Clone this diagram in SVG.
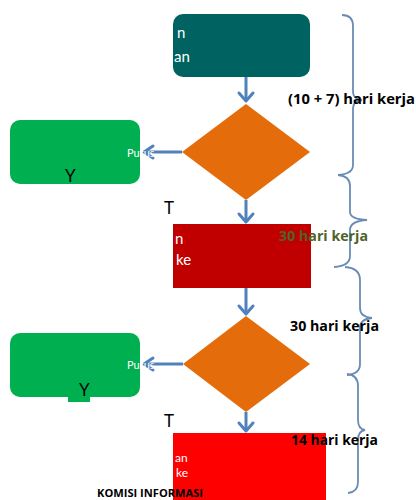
<svg xmlns="http://www.w3.org/2000/svg" width="416" height="500" viewBox="0 0 416 500">
<defs>
<style>
.conn{stroke:#4F81BD;stroke-width:3;fill:none}
.head{stroke:#4F81BD;stroke-width:3;fill:none;stroke-linecap:round;stroke-linejoin:round}
.brace{stroke:#6A8CB4;stroke-width:1.8;fill:none}
.wt{font-family:Lato,"Liberation Sans",sans-serif;fill:#fff;font-size:15px}
.yt{font-family:Lato,"Liberation Sans",sans-serif;fill:#000;font-size:17px}
.lab{font-family:"Open Sans",Lato,sans-serif;font-weight:bold;font-size:14px;fill:#000}
</style>
</defs>
<rect width="416" height="500" fill="#fff"/>
<g id="start">
<rect x="173" y="14" width="137" height="63" rx="10" fill="#006361"/>
<text class="wt" x="177" y="38">n</text>
<text class="wt" x="174" y="62">an</text>
</g>
<g id="decision1">
<polygon points="246,104 310,152 246,200 182,152" fill="#E46C0A"/>
</g>
<g id="yes1">
<rect x="10" y="120" width="130" height="64" rx="10" fill="#00B050"/>
<text class="yt" x="65" y="182">Y</text>
</g>
<g id="step2">
<rect x="173" y="224" width="138" height="64" fill="#C00000"/>
<text class="wt" x="175" y="244">n</text>
<text class="wt" x="176" y="265">ke</text>
</g>
<g id="decision2">
<polygon points="246,316 310,364 246,412 183,364" fill="#E46C0A"/>
</g>
<g id="yes2">
<rect x="10" y="333" width="130" height="64" rx="10" fill="#00B050"/>
<rect x="68" y="396" width="22" height="6" fill="#00B050"/>
<text class="yt" x="79" y="396">Y</text>
</g>
<g id="step3">
<rect x="173" y="433" width="153" height="67" fill="#FF0000"/>
<text class="wt" x="175" y="462" style="font-size:12px">an</text>
<text class="wt" x="176" y="477" style="font-size:12px">ke</text>
</g>
<g id="connectors">
<line class="conn" x1="246" y1="77" x2="246" y2="101"/>
<polyline class="head" points="239,93 246,101 253,93"/>
<line class="conn" x1="182" y1="152" x2="145" y2="152"/>
<polyline class="head" points="153,146 144,152 153,158"/>
<line class="conn" x1="246" y1="200" x2="246" y2="222"/>
<polyline class="head" points="239,214 246,222 253,214"/>
<line class="conn" x1="246" y1="288" x2="246" y2="314"/>
<polyline class="head" points="239,306 246,314 253,306"/>
<line class="conn" x1="183" y1="364" x2="145" y2="364"/>
<polyline class="head" points="153,358 144,364 153,370"/>
<line class="conn" x1="246" y1="412" x2="246" y2="431"/>
<polyline class="head" points="239,423 246,431 253,423"/>
</g>
<g id="branch-labels">
<text class="wt" x="127" y="157" style="font-size:11px">Putus</text>
<text class="wt" x="127" y="369" style="font-size:11px">Putus</text>
<text class="yt" x="164" y="214">T</text>
<text class="yt" x="164" y="427">T</text>
</g>
<g id="braces">
<path class="brace" d="M342,15 Q353,15 353,26 L353,92 Q353,99 362,100 Q353,101 353,108 L353,165 Q353,174 338,175"/>
<path class="brace" d="M338,175 Q350,176 350,186 L350,212 Q350,219 367,220 Q350,221 350,230 L350,256 Q350,266 334,267"/>
<path class="brace" d="M345,267 Q360,268 360,280 L360,308 Q360,317 372,318 Q360,319 360,328 L360,364 Q360,374 347,375"/>
<path class="brace" d="M347,374 Q358,375 358,386 L358,420 Q358,429 365,430 Q358,431 358,440 L358,482 Q358,492 348,493"/>
</g>
<g id="duration-labels">
<text class="lab" x="288" y="104" textLength="127" lengthAdjust="spacingAndGlyphs">(10 + 7) hari kerja</text>
<text class="lab" x="279" y="241" textLength="89" lengthAdjust="spacingAndGlyphs" style="fill:#4F6228">30 hari kerja</text>
<text class="lab" x="290" y="331" textLength="89" lengthAdjust="spacingAndGlyphs">30 hari kerja</text>
<text class="lab" x="291" y="445" textLength="87" lengthAdjust="spacingAndGlyphs">14 hari kerja</text>
<text class="lab" x="97" y="497" textLength="106" lengthAdjust="spacingAndGlyphs" style="font-size:10px">KOMISI INFORMASI</text>
</g>
</svg>
